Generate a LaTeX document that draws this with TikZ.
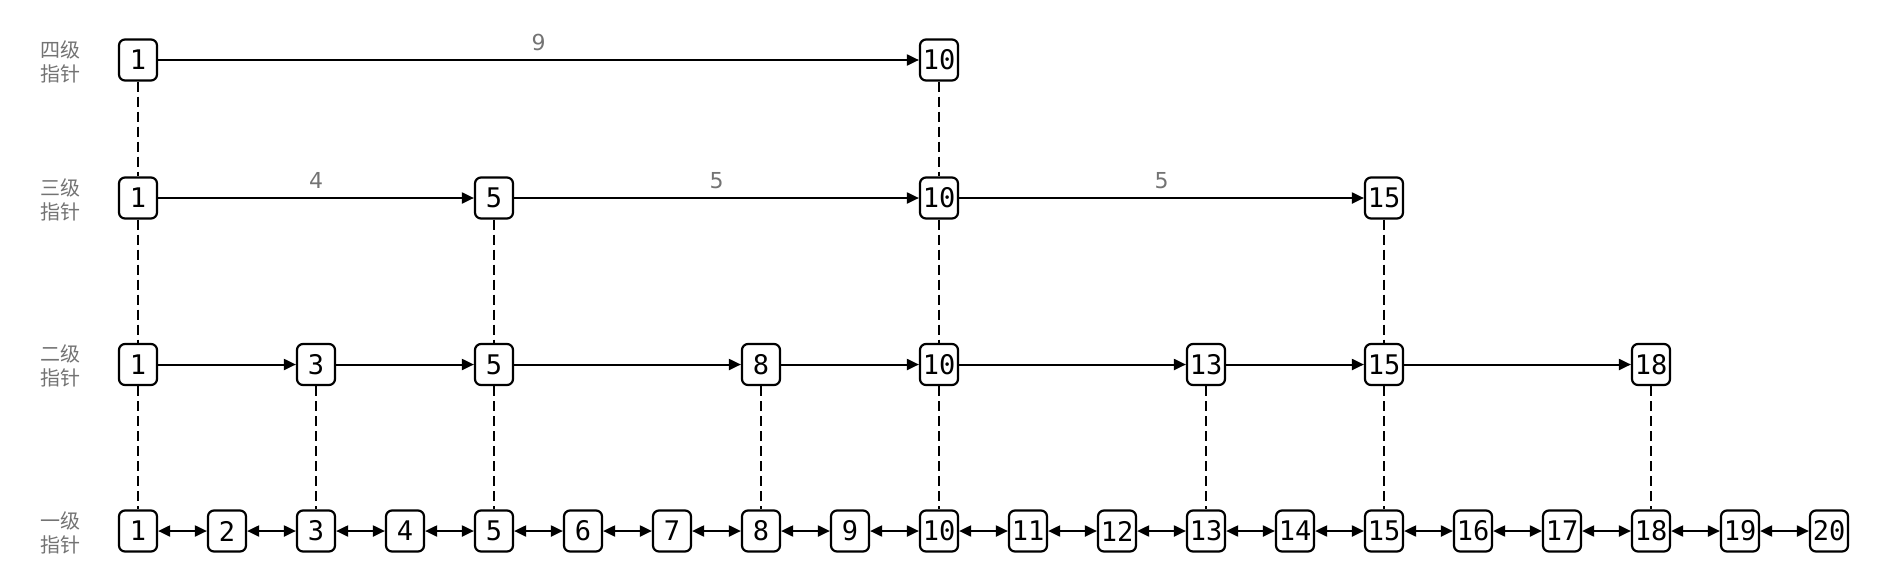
\documentclass[tikz,border=0pt]{standalone}
\usepackage{fontspec}
\newfontfamily\monof{DejaVu Sans Mono}
\newfontfamily\cjkf{Noto Sans CJK SC}
\newfontfamily\labf{DejaVu Sans}
\usetikzlibrary{arrows.meta}
\begin{document}
\begin{tikzpicture}[x=0.5pt,y=-0.5pt,
  nd/.style={draw, line width=1.1pt, rounded corners=3pt, minimum width=19pt, minimum height=20.5pt, inner sep=0pt, font=\monof\fontsize{13.5}{13.5}\selectfont},
  lvl/.style={font=\cjkf\fontsize{10}{12}\selectfont, text=black!55, align=center},
  link/.style={line width=1pt, -{Triangle[length=6pt,width=5.5pt]}},
  blink/.style={line width=1pt, {Triangle[length=6pt,width=5.5pt]}-{Triangle[length=6pt,width=5.5pt]}},
  vlink/.style={line width=1pt, dash pattern=on 5pt off 2.5pt},
  lab/.style={font=\labf\fontsize{11}{11}\selectfont, text=black!55, yshift=0.8pt}]
\useasboundingbox (0,0) rectangle (1884,568);
% level labels
\node[lvl] (l4) at (60,62) {四级\\指针};
\node[lvl] (l3) at (60,200) {三级\\指针};
\node[lvl] (l2) at (60,366) {二级\\指针};
\node[lvl] (l1) at (60,533) {一级\\指针};
% nodes
\foreach \i in {1,...,20} \node[nd] (a\i) at ({138+(\i-1)*89},531) {\i};
\foreach \i in {1,3,5,8,10,13,15,18} \node[nd] (b\i) at ({138+(\i-1)*89},364.5) {\i};
\foreach \i in {1,5,10,15} \node[nd] (c\i) at ({138+(\i-1)*89},198) {\i};
\foreach \i in {1,10} \node[nd] (d\i) at ({138+(\i-1)*89},60) {\i};
% horizontal links
\foreach \i [evaluate=\i as \j using int(\i+1)] in {1,...,19} \draw[blink] (a\i) -- (a\j);
\foreach \p/\q in {1/3,3/5,5/8,8/10,10/13,13/15,15/18} \draw[link] (b\p) -- (b\q);
\draw[link] (c1) -- node[lab, midway, above] {4} (c5);
\draw[link] (c5) -- node[lab, midway, above] {5} (c10);
\draw[link] (c10) -- node[lab, midway, above] {5} (c15);
\draw[link] (d1) -- node[lab, midway, above] {9} (d10);
% vertical dashed links
\foreach \i in {1,10} \draw[vlink] (d\i) -- (c\i);
\foreach \i in {1,5,10,15} \draw[vlink] (c\i) -- (b\i);
\foreach \i in {1,3,5,8,10,13,15,18} \draw[vlink] (b\i) -- (a\i);
\end{tikzpicture}
\end{document}
